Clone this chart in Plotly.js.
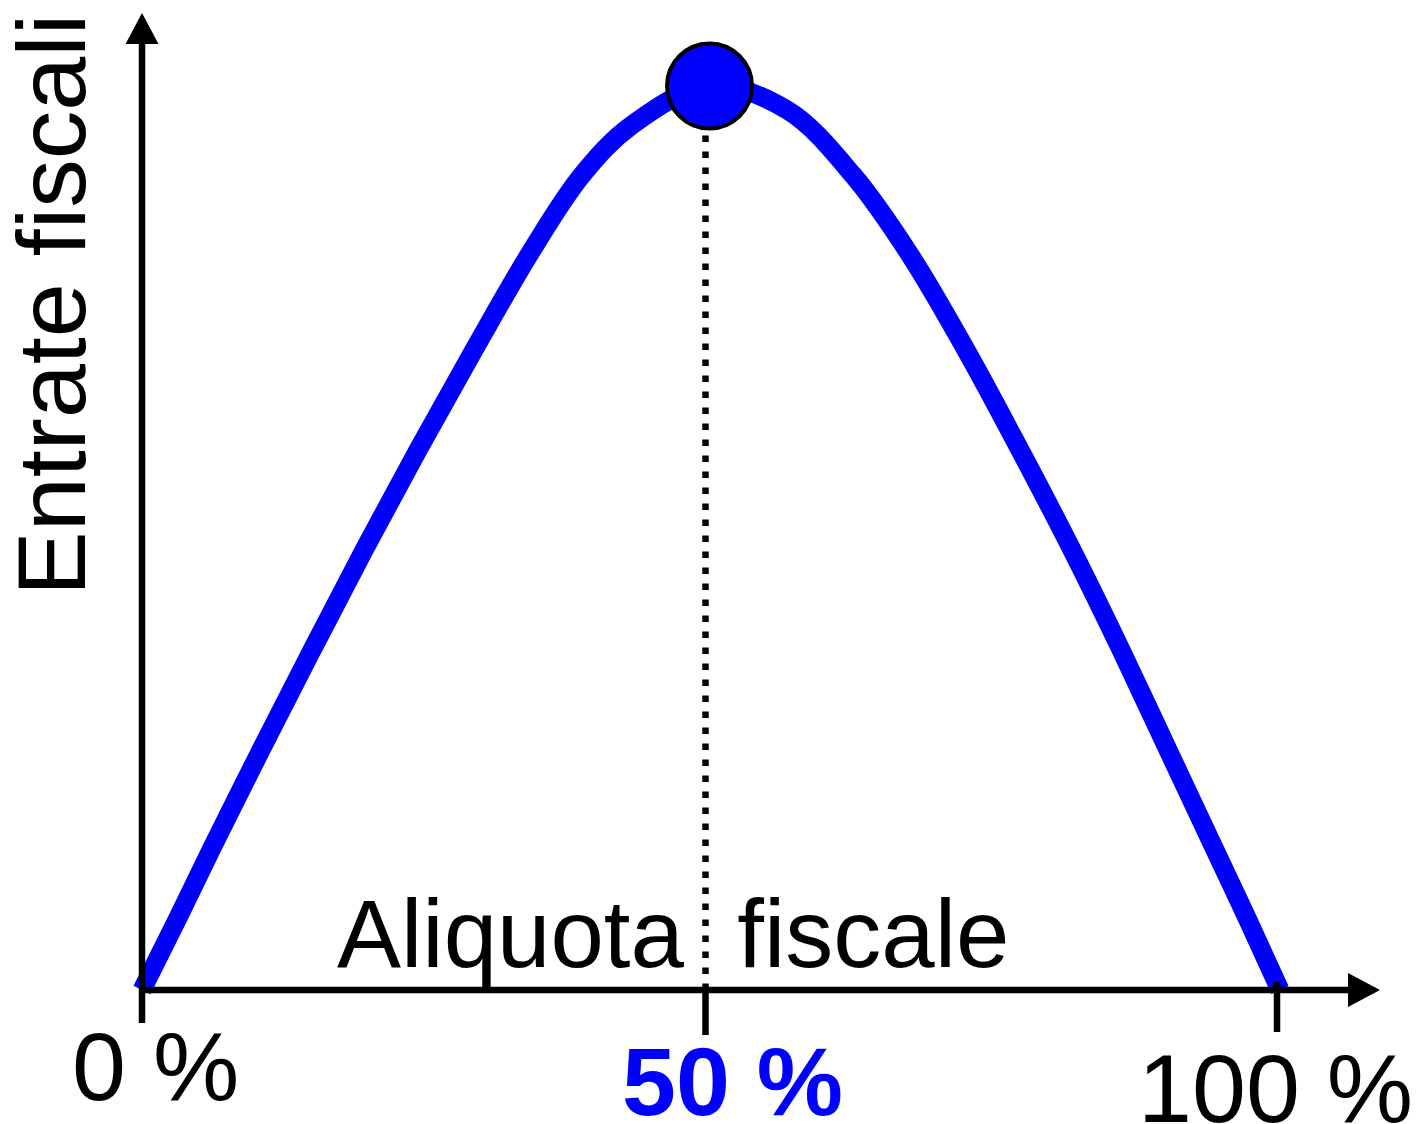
<!DOCTYPE html>
<html>
<head>
<meta charset="utf-8">
<script src="https://cdn.plot.ly/plotly-3.0.1.min.js"></script>
<style>html,body{margin:0;padding:0;background:#fff;}</style>
</head>
<body>
<div id="plot" style="width:1419px;height:1124px"></div>
<script>
// Laffer curve: tax rate (%) vs. tax revenue (relative, peak = 100)
const taxRate = [0, 3.08, 6.08, 10.48, 14.98, 19.56, 24.32, 29.25, 34.36, 38.77, 43.17, 50,
                 56.83, 62.64, 67.67, 72.60, 77.36, 81.94, 86.26, 90.40, 94.54, 97.44, 100.26];
const revenue = [0, 7.74, 15.49, 26.55, 37.61, 48.67, 59.73, 70.80, 81.86, 90.15, 95.69, 100,
                 97.35, 90.15, 81.31, 70.80, 59.73, 48.67, 37.61, 26.55, 15.49, 7.74, 0];
const peakRate = 50;
const peakRevenue = 100;
const tickRates = [0, 50, 100];
const tickLabels = ['0 %', '<b>50 %</b>', '100 %'];
const xTitle = 'Aliquota\u00a0\u00a0fiscale';
const yTitle = 'Entrate fiscali';

document.addEventListener('DOMContentLoaded', function() {
    const W = 1419, H = 1124;
    // pixels per data unit and where the origin sits
    const sx = 11.35, sy = 9.04;
    const ox = 142, oy = 990;
    const xRange = [-ox / sx, (W - ox) / sx];
    const yRange = [-(H - oy) / sy, oy / sy];
    const dx = p => p / sx;   // px -> data x
    const dy = p => p / sy;   // px -> data y

    const font = 'Liberation Sans, Arial, sans-serif';
    const blue = '#0000ff';
    const axisW = 6.5;

    const curve = {
        x: taxRate,
        y: revenue,
        mode: 'lines',
        line: {color: blue, width: 19, shape: 'spline', smoothing: 1},
        hoverinfo: 'skip'
    };

    const peak = {
        x: [peakRate],
        y: [peakRevenue],
        mode: 'markers',
        marker: {color: blue, size: 85, line: {color: '#000', width: 4}},
        hoverinfo: 'skip'
    };

    const xEnd = xRange[1], yEnd = yRange[1];
    const shapes = [
        // dotted line from the peak down to the axis
        {type: 'line', layer: 'below', x0: peakRate - dx(4), x1: peakRate - dx(4), y0: 0, y1: peakRevenue,
         line: {color: '#000', width: 6.5, dash: '6.5px,9.5px'}},
        // y axis, with a stub below the x axis
        {type: 'line', layer: 'above', x0: 0, x1: 0, y0: -dy(33), y1: yEnd - dy(44),
         line: {color: '#000', width: axisW}},
        // x axis
        {type: 'line', layer: 'above', x0: 0, x1: xEnd - dx(1419 - 1350), y0: 0, y1: 0,
         line: {color: '#000', width: axisW}},
        // arrow heads
        {type: 'path', layer: 'above', fillcolor: '#000', line: {width: 0},
         path: `M ${-dx(16.5)} ${yEnd - dy(44)} L 0 ${yEnd - dy(13)} L ${dx(16.5)} ${yEnd - dy(44)} Z`},
        {type: 'path', layer: 'above', fillcolor: '#000', line: {width: 0},
         path: `M ${xEnd - dx(71)} ${dy(17)} L ${xEnd - dx(39)} 0 L ${xEnd - dx(71)} ${-dy(17)} Z`},
        // ticks at 50 % and 100 %
        {type: 'line', layer: 'above', x0: tickRates[1] - dx(4), x1: tickRates[1] - dx(4), y0: 0, y1: -dy(45),
         line: {color: '#000', width: axisW}},
        {type: 'line', layer: 'above', x0: tickRates[2], x1: tickRates[2], y0: dy(8), y1: -dy(42),
         line: {color: '#000', width: axisW}}
    ];

    const labelShift = [[13, -76], [22.5, -91], [-2, -98]];
    const annotations = tickRates.map((r, i) => ({
        x: r, y: 0, text: tickLabels[i], showarrow: false,
        xanchor: 'center', yanchor: 'middle',
        xshift: labelShift[i][0], yshift: labelShift[i][1],
        font: {family: font, size: 97, color: i === 1 ? blue : '#000'}
    }));
    annotations.push({
        x: peakRate, y: 0, text: xTitle, showarrow: false,
        xanchor: 'center', yanchor: 'middle', xshift: -36.5, yshift: 57,
        font: {family: font, size: 96, color: '#000'}
    });
    annotations.push({
        x: 0, y: 0, text: yTitle, showarrow: false, textangle: -90,
        xanchor: 'center', yanchor: 'middle', xshift: -91, yshift: 685,
        font: {family: font, size: 97, color: '#000'}
    });

    const layout = {
        width: W, height: H, autosize: false,
        margin: {l: 0, r: 0, t: 0, b: 0, pad: 0},
        paper_bgcolor: '#fff', plot_bgcolor: '#fff',
        showlegend: false,
        xaxis: {range: xRange, visible: false, fixedrange: true},
        yaxis: {range: yRange, visible: false, fixedrange: true},
        shapes: shapes,
        annotations: annotations
    };

    Plotly.newPlot('plot', [curve, peak], layout, {staticPlot: true, displayModeBar: false});
});
</script>
</body>
</html>
